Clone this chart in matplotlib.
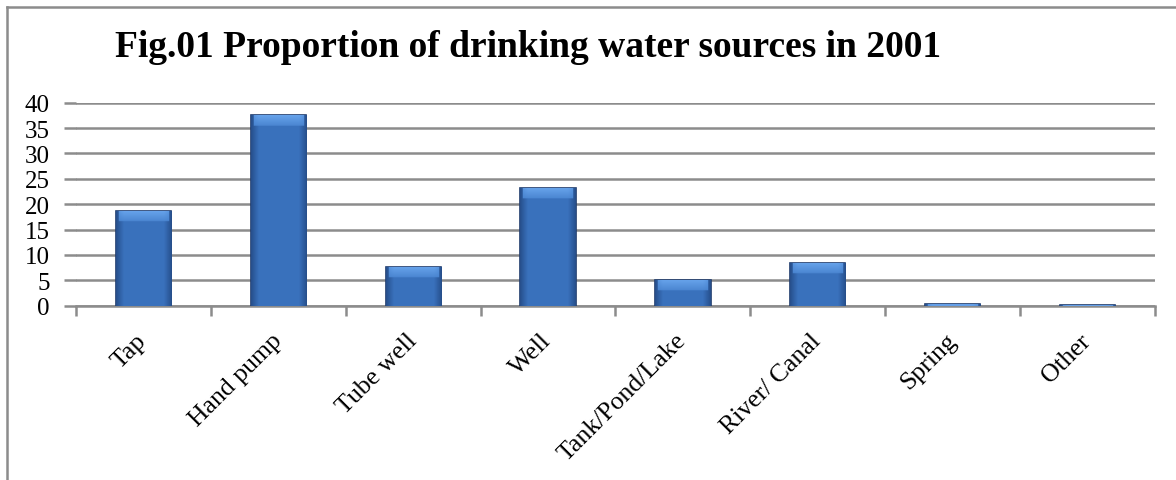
import matplotlib
matplotlib.use("Agg")
import matplotlib.pyplot as plt
import numpy as np
from matplotlib.lines import Line2D
from matplotlib.colors import LinearSegmentedColormap

categories = ["Tap", "Hand pump", "Tube well", "Well", "Tank/Pond/Lake",
              "River/ Canal", "Spring", "Other"]
values = [18.6, 37.6, 7.6, 23.1, 5.0, 8.4, 0.3, 0.1]
yticks = [0, 5, 10, 15, 20, 25, 30, 35, 40]
title = "Fig.01 Proportion of drinking water sources in 2001"

plt.rcParams['font.family'] = ['Liberation Serif', 'DejaVu Serif']

fig = plt.figure(figsize=(11.76, 4.81), dpi=100)
ax = fig.add_axes([0.0646, 0.3624, 0.9175, 0.4220])

x = np.arange(len(categories))
bars = ax.bar(x, values, width=0.41, color='#3A72BE', edgecolor='#1E3B6C',
              linewidth=1.2, zorder=3)

ax.set_xlim(-0.5, len(categories) - 0.5)
ax.set_ylim(0, 40)

# bevel-like shading clipped to each bar
cmap = LinearSegmentedColormap.from_list(
    'bev', [(0.0, '#1D3A6A'), (0.3, '#2C5A9C'), (0.55, '#3A72BD'),
            (0.7, '#4580CC'), (1.0, '#66A2EA')])
fig.canvas.draw()
for b in bars:
    bx, bw, bh = b.get_x(), b.get_width(), b.get_height()
    if bh <= 0:
        continue
    nx, ny = 60, 160
    u = np.linspace(0, 1, nx)
    edge = np.minimum(u, 1 - u)
    horiz = np.clip(edge / 0.14, 0, 1)
    p0 = ax.transData.transform((bx, 0))
    p1 = ax.transData.transform((bx, bh))
    hpx = max(p1[1] - p0[1], 1)
    vy = np.linspace(1, 0, ny)[:, None] * hpx
    top = hpx - vy
    topband = np.clip(1 - top / 12.0, 0, 1)
    body = 0.2 + 0.35 * horiz[None, :] + 0.0 * vy
    bev = 0.7 + 0.3 * topband * np.sqrt(horiz[None, :])
    img = np.where(top < 10, np.maximum(body, bev * (horiz[None, :] > 0.3)), body)
    im = ax.imshow(img, extent=(bx, bx + bw, 0, bh), cmap=cmap, vmin=0, vmax=1,
                   aspect='auto', zorder=3.5, interpolation='bilinear')
    im.set_clip_path(b)
ax.set_xlim(-0.5, len(categories) - 0.5)
ax.set_ylim(0, 40)

ax.set_yticks(yticks)
ax.set_yticklabels([str(v) for v in yticks], fontsize=18)
ax.yaxis.grid(True, color='#8C8C8C', linewidth=1.8, zorder=0)
ax.set_axisbelow(True)
ax.tick_params(axis='y', length=9, color='#8C8C8C', width=1.8, pad=10)

ax.set_xticks(np.arange(len(categories) + 1) - 0.5, minor=False)
ax.set_xticklabels([])
ax.tick_params(axis='x', length=7, color='#8C8C8C', width=1.8)
for i, c in enumerate(categories):
    ax.annotate(c, xy=(i, 0), xycoords='data', xytext=(0, -22.5),
                textcoords='offset points', rotation=45, rotation_mode='anchor',
                ha='right', va='center', fontsize=18.5)

for s in ['top', 'right', 'left']:
    ax.spines[s].set_visible(False)
ax.spines['bottom'].set_color('#8C8C8C')
ax.spines['bottom'].set_linewidth(1.8)

fig.text(0.449, 0.882, title, ha='center', va='baseline', fontsize=27,
         fontweight='bold')

# chart frame (top and left borders)
fig.add_artist(Line2D([0.006, 1.0], [0.983, 0.983], transform=fig.transFigure,
                      color='#8C8C8C', linewidth=1.8))
fig.add_artist(Line2D([0.006, 0.006], [0.0, 0.983], transform=fig.transFigure,
                      color='#8C8C8C', linewidth=1.8))

fig.savefig("out.png", dpi=100)
